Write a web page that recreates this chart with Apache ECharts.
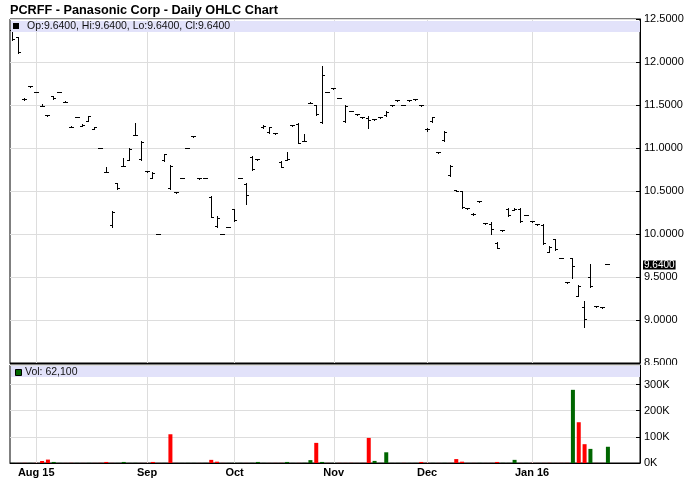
<!DOCTYPE html>
<html><head><meta charset="utf-8">
<script src="https://cdn.jsdelivr.net/npm/echarts@6/dist/echarts.min.js"></script>
<style>html,body{margin:0;padding:0;background:#fff}#c{width:688px;height:503px}</style>
</head><body><div id="c"></div>
<script>
const dates = [
'2015-07-27','2015-07-28','2015-07-29','2015-07-31',
'2015-08-03','2015-08-04','2015-08-05','2015-08-06','2015-08-07','2015-08-10','2015-08-11','2015-08-13','2015-08-14','2015-08-17','2015-08-18','2015-08-19','2015-08-20','2015-08-21','2015-08-24','2015-08-26','2015-08-27','2015-08-28','2015-08-31',
'2015-09-01','2015-09-02','2015-09-03','2015-09-08','2015-09-09','2015-09-11','2015-09-14','2015-09-15','2015-09-17','2015-09-18','2015-09-21','2015-09-23','2015-09-24','2015-09-28','2015-09-30',
'2015-10-01','2015-10-02','2015-10-05','2015-10-06','2015-10-08','2015-10-09','2015-10-12','2015-10-14','2015-10-15','2015-10-16','2015-10-20','2015-10-21','2015-10-22','2015-10-26','2015-10-27','2015-10-29','2015-10-30',
'2015-11-02','2015-11-03','2015-11-04','2015-11-05','2015-11-09','2015-11-10','2015-11-11','2015-11-13','2015-11-16','2015-11-17','2015-11-18','2015-11-20','2015-11-23','2015-11-24','2015-11-25','2015-11-30',
'2015-12-01','2015-12-02','2015-12-03','2015-12-04','2015-12-07','2015-12-09','2015-12-10','2015-12-11','2015-12-14','2015-12-15','2015-12-17','2015-12-18','2015-12-21','2015-12-22','2015-12-23','2015-12-28','2015-12-30','2015-12-31',
'2016-01-04','2016-01-05','2016-01-06','2016-01-07','2016-01-08','2016-01-11','2016-01-12','2016-01-13','2016-01-14','2016-01-15','2016-01-19','2016-01-20','2016-01-21','2016-01-22'
];
const emptyDates = ['2016-01-25','2016-01-26','2016-01-27','2016-01-28','2016-01-29'];

const opens = [12.37,12.29,11.56,11.71,11.65,11.48,11.38,11.60,11.65,11.53,11.24,11.36,11.25,11.31,11.21,11.00,10.71,10.10,10.59,10.78,10.86,11.14,10.87,10.73,10.65,10.00,10.85,10.53,10.48,10.65,11.00,11.13,10.64,10.65,10.43,10.09,10.00,10.08,10.29,10.65,10.58,10.89,10.87,11.24,11.18,11.17,10.83,10.86,11.26,11.27,11.07,11.52,11.50,11.30,11.65,11.69,11.58,11.31,11.43,11.39,11.35,11.34,11.33,11.35,11.38,11.49,11.55,11.50,11.55,11.56,11.49,11.21,11.31,10.95,11.09,10.68,10.51,10.49,10.30,10.23,10.38,10.12,10.11,9.89,10.04,10.29,10.27,10.29,10.22,10.14,10.11,10.10,9.78,9.94,9.72,9.44,9.71,9.27,9.15,9.50,9.16,9.14,9.64];
const highs = [12.38,12.29,11.57,11.71,11.65,11.51,11.38,11.60,11.65,11.54,11.25,11.36,11.27,11.37,11.24,11.00,10.77,10.26,10.59,10.88,10.99,11.29,11.07,10.73,10.71,10.00,10.93,10.80,10.48,10.65,11.00,11.13,10.64,10.65,10.44,10.20,10.00,10.08,10.29,10.65,10.59,10.90,10.87,11.26,11.24,11.17,10.84,10.95,11.26,11.28,11.16,11.53,11.50,11.95,11.65,11.69,11.58,11.49,11.43,11.39,11.35,11.37,11.33,11.35,11.42,11.49,11.55,11.50,11.55,11.56,11.49,11.23,11.36,10.95,11.19,10.80,10.51,10.49,10.30,10.24,10.38,10.12,10.13,9.90,10.04,10.30,10.30,10.30,10.22,10.14,10.11,10.11,9.85,9.94,9.72,9.44,9.72,9.40,9.22,9.65,9.16,9.14,9.64];
const lows = [12.25,12.10,11.55,11.70,11.64,11.48,11.37,11.56,11.64,11.53,11.24,11.35,11.25,11.31,11.21,10.99,10.71,10.08,10.52,10.78,10.85,11.14,10.86,10.72,10.64,9.99,10.84,10.52,10.47,10.64,10.99,11.12,10.63,10.64,10.19,10.08,9.99,10.07,10.15,10.64,10.34,10.74,10.86,11.23,11.17,11.16,10.77,10.86,11.25,11.05,11.07,11.52,11.38,11.29,11.64,11.68,11.57,11.30,11.42,11.38,11.34,11.23,11.32,11.34,11.37,11.48,11.54,11.49,11.54,11.55,11.48,11.19,11.30,10.94,11.08,10.67,10.49,10.30,10.29,10.22,10.37,10.11,9.99,9.83,10.03,10.20,10.27,10.13,10.21,10.13,10.10,9.88,9.78,9.81,9.71,9.43,9.48,9.27,8.91,9.38,9.15,9.13,9.64];
const closes = [12.26,12.11,11.56,11.71,11.65,11.48,11.38,11.57,11.65,11.53,11.24,11.36,11.26,11.37,11.24,11.00,10.71,10.25,10.53,10.79,10.98,11.14,11.06,10.73,10.70,10.00,10.92,10.78,10.48,10.65,11.00,11.13,10.64,10.65,10.19,10.18,10.00,10.08,10.16,10.65,10.45,10.75,10.87,11.25,11.24,11.17,10.77,10.87,11.26,11.05,11.07,11.52,11.39,11.84,11.65,11.69,11.58,11.48,11.43,11.39,11.35,11.32,11.33,11.35,11.41,11.49,11.55,11.50,11.55,11.56,11.49,11.21,11.35,10.95,11.18,10.79,10.50,10.31,10.30,10.23,10.38,10.12,10.05,9.83,10.04,10.21,10.29,10.14,10.22,10.14,10.11,9.89,9.84,9.82,9.72,9.44,9.62,9.39,9.01,9.39,9.16,9.14,9.64];
const volumes = [300,200,500,300,400,7700,13000,4000,300,200,500,300,200,400,300,500,4000,300,200,4000,300,500,200,300,4000,200,300,110000,300,200,400,300,200,300,12000,5000,300,200,400,300,200,500,4000,300,200,300,400,4000,200,300,500,11000,77000,4000,300,200,400,300,500,200,300,96000,8000,300,41000,200,300,400,200,300,4000,500,300,200,400,300,15000,5000,200,300,400,200,300,4000,500,300,12000,200,300,400,200,300,500,200,300,400,280000,156000,72000,54000,300,200,62100];

const priceMin = 8.5, priceMax = 12.5, priceStep = 0.5;
const volMin = 0, volMax = 375000, volStep = 100000;
const monthNames = ['Jan','Feb','Mar','Apr','May','Jun','Jul','Aug','Sep','Oct','Nov','Dec'];

const FONT = "'Liberation Sans', Arial, Helvetica, sans-serif";
const xCats = dates.concat(emptyDates);
const monthStarts = [];
dates.forEach((d, i) => { if (i > 0 && d.slice(0,7) !== dates[i-1].slice(0,7)) monthStarts.push(i); });
function monthLabel(i) {
  const d = dates[i]; const m = +d.slice(5,7) - 1; const yy = d.slice(2,4);
  return (i === monthStarts[0] || m === 0) ? monthNames[m] + ' ' + yy : monthNames[m];
}
const ohlc = dates.map((d, i) => [i, opens[i], highs[i], lows[i], closes[i]]);
const UP = '#006600', DOWN = '#ff0000';
const volData = volumes.map((v, i) => ({ value: v, itemStyle: { color: (i > 0 && closes[i] < closes[i-1]) ? DOWN : UP } }));
const last = dates.length - 1;
const vLines = monthStarts.map(i => ({ xAxis: dates[i] }));

const chart = echarts.init(document.getElementById('c'), null, { renderer: 'canvas' });
const gridLineColor = '#dddddd';
chart.setOption({
  animation: false,
  backgroundColor: '#fff',
  textStyle: { fontFamily: FONT },
  title: { text: 'PCRFF - Panasonic Corp - Daily OHLC Chart', left: 5, top: -1,
    textStyle: { fontSize: 12.7, fontWeight: 'bold', color: '#000', fontFamily: FONT } },
  grid: [
    { left: 10, right: 48, top: 19, height: 344, show: true, borderColor: '#000', borderWidth: 1 },
    { left: 10, right: 48, top: 365, height: 98, show: true, borderColor: '#000', borderWidth: 1 }
  ],
  xAxis: [
    { type: 'category', gridIndex: 0, data: xCats, boundaryGap: true,
      axisLine: { lineStyle: { color: '#000' } }, axisTick: { show: false }, axisLabel: { show: false }, splitLine: { show: false } },
    { type: 'category', gridIndex: 1, data: xCats, boundaryGap: true,
      axisLine: { lineStyle: { color: '#000' } }, axisTick: { show: false }, splitLine: { show: false },
      axisLabel: { interval: (i) => monthStarts.includes(i), formatter: (v, i) => monthStarts.includes(i) ? monthLabel(i) : '',
        fontSize: 11, fontWeight: 'bold', color: '#000', margin: 4, fontFamily: FONT } }
  ],
  yAxis: [
    { type: 'value', gridIndex: 0, position: 'right', min: priceMin, max: priceMax, interval: priceStep,
      axisLine: { show: true, lineStyle: { color: '#000' } },
      axisTick: { show: true, inside: true, length: 4, lineStyle: { color: '#000' } },
      axisLabel: { formatter: v => v.toFixed(4), fontSize: 11, color: '#000', margin: 4, fontFamily: FONT },
      splitLine: { show: true, lineStyle: { color: gridLineColor } } },
    { type: 'value', gridIndex: 1, position: 'right', min: volMin, max: volMax, interval: volStep,
      axisLine: { show: true, lineStyle: { color: '#000' } },
      axisTick: { show: true, inside: true, length: 4, lineStyle: { color: '#000' } },
      axisLabel: { formatter: v => (v / 1000) + 'K', fontSize: 11, color: '#000', margin: 4, showMaxLabel: false, fontFamily: FONT },
      splitLine: { show: true, lineStyle: { color: gridLineColor } } }
  ],
  series: [
    { type: 'custom', name: 'OHLC', xAxisIndex: 0, yAxisIndex: 0, data: ohlc, z: 3,
      encode: { x: 0, y: [1, 2, 3, 4] },
      renderItem: function (params, api) {
        const i = api.value(0);
        const pO = api.coord([i, api.value(1)]);
        const pH = api.coord([i, api.value(2)]);
        const pL = api.coord([i, api.value(3)]);
        const pC = api.coord([i, api.value(4)]);
        const cx = Math.round(pH[0] - 0.5);
        const x = cx + 0.5;
        const yH = Math.round(pH[1] - 0.5), yL = Math.round(pL[1] - 0.5);
        const yO = Math.round(pO[1] - 0.5) + 0.5, yC = Math.round(pC[1] - 0.5) + 0.5;
        const st = { stroke: '#000', lineWidth: 1 };
        return { type: 'group', children: [
          { type: 'line', shape: { x1: x, y1: yH, x2: x, y2: yL + 1 }, style: st },
          { type: 'line', shape: { x1: cx - 2, y1: yO, x2: cx + 1, y2: yO }, style: st },
          { type: 'line', shape: { x1: cx, y1: yC, x2: cx + 3, y2: yC }, style: st }
        ] };
      },
      markLine: { silent: true, symbol: ['none', 'none'], z: 1, animation: false,
        label: { show: false }, lineStyle: { color: gridLineColor, type: 'solid', width: 1 },
        data: vLines.concat([{ yAxis: closes[last], lineStyle: { color: 'rgba(0,0,0,0)', width: 0 },
          label: { show: true, position: 'end', distance: 3, formatter: closes[last].toFixed(4), opacity: 1,
            backgroundColor: '#000', color: '#fff', fontSize: 10, padding: [0, 1, 0, 1], lineHeight: 9, fontFamily: FONT } }]) }
    },
    { type: 'bar', name: 'Vol', xAxisIndex: 1, yAxisIndex: 1, data: volData, barWidth: 4, z: 3,
      markLine: { silent: true, symbol: ['none', 'none'], z: 1, animation: false,
        label: { show: false }, lineStyle: { color: gridLineColor, type: 'solid', width: 1 }, data: vLines } }
  ],
  graphic: [
    { type: 'rect', z: 100, shape: { x: 11, y: 21, width: 629, height: 11 }, style: { fill: '#e2e2fa' } },
    { type: 'rect', z: 101, shape: { x: 13, y: 23, width: 6, height: 6 }, style: { fill: '#000' } },
    { type: 'text', z: 101, x: 27, y: 26.5, style: { text: 'Op:' + opens[last].toFixed(4) + ', Hi:' + highs[last].toFixed(4) + ', Lo:' + lows[last].toFixed(4) + ', Cl:' + closes[last].toFixed(4),
      fill: '#111', font: '10.5px ' + FONT, verticalAlign: 'middle' } },
    { type: 'rect', z: 100, shape: { x: 11, y: 366, width: 629, height: 11 }, style: { fill: '#e2e2fa' } },
    { type: 'rect', z: 101, shape: { x: 15.5, y: 369.5, width: 6, height: 6 }, style: { fill: UP, stroke: '#000', lineWidth: 1 } },
    { type: 'text', z: 101, x: 25, y: 372, style: { text: 'Vol: ' + volumes[last].toLocaleString('en-US'),
      fill: '#111', font: '10.5px ' + FONT, verticalAlign: 'middle' } },
    { type: 'rect', z: 100, shape: { x: 641, y: 365, width: 47, height: 13 }, style: { fill: '#fff' } }
  ]
});
</script>
</body></html>
